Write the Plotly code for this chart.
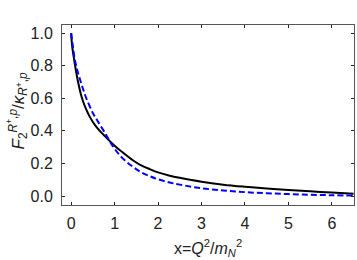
import plotly.graph_objects as go

# curve samples
x_solid = [0, 0.02, 0.05, 0.08, 0.12, 0.16, 0.22, 0.27, 0.35, 0.43, 0.55, 0.66, 0.75, 0.86,
           1.04, 1.2, 1.42, 1.6, 1.81, 2.0, 2.27, 2.5, 3.0, 3.5, 4.0, 4.5, 5.0, 5.5, 6.0, 6.5]
y_solid = [1.0, 0.93, 0.87, 0.82, 0.755, 0.70, 0.63, 0.585, 0.53, 0.486, 0.435, 0.40, 0.375, 0.345,
           0.30, 0.265, 0.22, 0.19, 0.165, 0.145, 0.125, 0.112, 0.088, 0.07, 0.057, 0.046, 0.037, 0.029, 0.021, 0.014]

x_dash = [0, 0.04, 0.08, 0.15, 0.2, 0.27, 0.35, 0.5, 0.6, 0.75, 0.86, 1.0, 1.2, 1.42, 1.6, 1.81,
          2.0, 2.27, 2.5, 3.0, 3.5, 4.0, 4.5, 5.0, 5.5, 6.0, 6.5]
y_dash = [1.0, 0.92, 0.845, 0.765, 0.72, 0.66, 0.60, 0.51, 0.465, 0.40, 0.35, 0.29, 0.228, 0.18, 0.148, 0.122,
          0.103, 0.083, 0.07, 0.048, 0.034, 0.024, 0.017, 0.012, 0.008, 0.005, 0.003]

x_ticks = [0, 1, 2, 3, 4, 5, 6]
y_ticks = [0.0, 0.2, 0.4, 0.6, 0.8, 1.0]

fig = go.Figure()
fig.add_trace(go.Scatter(x=x_solid, y=y_solid, mode='lines', line_shape='spline',
                         line=dict(color='black', width=2)))
fig.add_trace(go.Scatter(x=x_dash, y=y_dash, mode='lines', line_shape='spline',
                         line=dict(color='#0000ff', width=2, dash='6px,3px')))

axis_common = dict(showgrid=False, zeroline=False, showline=True, linecolor='#555', linewidth=1,
                   mirror='ticks', ticks='inside', ticklen=3, tickcolor='#222', tickwidth=1,
                   tickfont=dict(family='Liberation Sans', size=16, color='#222'))

fig.update_xaxes(range=[-0.21, 6.51], tickvals=x_ticks, ticklabelstandoff=4, **axis_common)
fig.update_yaxes(range=[-0.055, 1.05], tickvals=y_ticks, tickformat='.1f', ticklabelstandoff=5, **axis_common)

fig.add_annotation(text='x=<i>Q</i><sup>2</sup>/<i>m</i><sub><i>N</i></sub><sup>2</sup>',
                   xref='paper', yref='paper', x=0.5, y=0, yshift=-43, showarrow=False,
                   xanchor='center', yanchor='middle',
                   font=dict(family='Liberation Sans', size=16, color='#222'))
fig.add_annotation(text='<i>F</i><sub>2</sub><sup><i>R</i><sup>+</sup>,<i>p</i></sup>/'
                        '<i>κ</i><sub><i>R</i><sup>+</sup>,<i>p</i></sub>',
                   xref='paper', yref='paper', x=0, y=0.52, xshift=-45, showarrow=False,
                   textangle=-90, xanchor='center', yanchor='middle',
                   font=dict(family='Liberation Sans', size=17, color='#222'))

fig.update_layout(width=357, height=260, showlegend=False,
                  margin=dict(l=62, r=3, t=25, b=55),
                  paper_bgcolor='white', plot_bgcolor='white')

# drop the default page margin so the figure sits at the window's corner
fig.write_html("out.html", config={'displayModeBar': False},
               post_script="document.body.style.margin='0';")
